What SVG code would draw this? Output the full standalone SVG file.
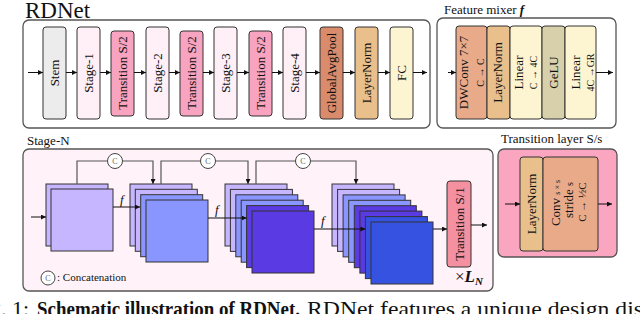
<svg xmlns="http://www.w3.org/2000/svg" width="640" height="314" viewBox="0 0 640 314" font-family="'Liberation Serif', 'DejaVu Serif', 'Times New Roman', serif">
<defs>
<marker id="ah" viewBox="0 0 6 6" refX="6" refY="3" markerWidth="5" markerHeight="5" orient="auto" markerUnits="userSpaceOnUse"><path d="M0,0 L6,3 L0,6 z" fill="#111"/></marker>
<style>
text{fill:#111}
.frame{stroke:#555;stroke-width:1.3}
.blk{stroke:#333;stroke-width:1}
.lbl{font-size:13px;text-anchor:middle}
.sm{font-size:10px;text-anchor:middle}
.arr{stroke:#111;stroke-width:1;fill:none;marker-end:url(#ah)}
.cat{stroke:#555;stroke-width:1.2;fill:none;marker-end:url(#ah)}
.sq{stroke:#333;stroke-width:1}
.lav{fill:#c6b6ff}.blu{fill:#8a96ff}.pur{fill:#5a3ae2}.roy{fill:#3552e0}
.cc{fill:#fff;stroke:#444;stroke-width:1}
.ct{font-size:8px;fill:#666;text-anchor:middle}
.stem{fill:#ececec}.stg{fill:#fff0f7}.trn{fill:#f8a3bf}.gap{fill:#d98b6c}.ln{fill:#e9bf8c}.fc{fill:#fdf4d2}.dw{fill:#e9aa8a}.gelu{fill:#d8cfab}
</style>
</defs>

<text x="25" y="18" font-size="23">RDNet</text>
<g id="rdnet">
<rect class="frame" x="23" y="20" width="407" height="108" rx="6" fill="#fff"/>
<g id="stem"><rect class="blk stem" x="43" y="27" width="23" height="92" rx="3"/><text class="lbl" transform="translate(58.5,73) rotate(-90)">Stem</text></g>
<g id="stage1"><rect class="blk stg" x="77" y="27" width="23" height="92" rx="3"/><text class="lbl" transform="translate(92.5,73) rotate(-90)">Stage-1</text></g>
<g id="trans1"><rect class="blk trn" x="111" y="31" width="23" height="85" rx="3"/><text class="lbl" transform="translate(126.5,73) rotate(-90)">Transition S/2</text></g>
<g id="stage2"><rect class="blk stg" x="146" y="27" width="23" height="92" rx="3"/><text class="lbl" transform="translate(161.5,73) rotate(-90)">Stage-2</text></g>
<g id="trans2"><rect class="blk trn" x="180" y="31" width="23" height="85" rx="3"/><text class="lbl" transform="translate(195.5,73) rotate(-90)">Transition S/2</text></g>
<g id="stage3"><rect class="blk stg" x="214" y="27" width="23" height="92" rx="3"/><text class="lbl" transform="translate(229.5,73) rotate(-90)">Stage-3</text></g>
<g id="trans3"><rect class="blk trn" x="249" y="31" width="23" height="85" rx="3"/><text class="lbl" transform="translate(264.5,73) rotate(-90)">Transition S/2</text></g>
<g id="stage4"><rect class="blk stg" x="283" y="27" width="23" height="92" rx="3"/><text class="lbl" transform="translate(298.5,73) rotate(-90)">Stage-4</text></g>
<g id="gap"><rect class="blk gap" x="320" y="27" width="23" height="92" rx="3"/><text class="lbl" transform="translate(335.5,73) rotate(-90)">GlobalAvgPool</text></g>
<g id="ln1"><rect class="blk ln" x="355" y="27" width="23" height="92" rx="3"/><text class="lbl" transform="translate(370.5,73) rotate(-90)">LayerNorm</text></g>
<g id="fc"><rect class="blk fc" x="390" y="27" width="23" height="92" rx="3"/><text class="lbl" transform="translate(405.5,73) rotate(-90)">FC</text></g>
</g>

<text x="444" y="14" font-size="13">Feature mixer <tspan font-weight="bold" font-style="italic">f</tspan></text>
<g id="mixer">
<rect class="frame" x="437" y="18" width="179" height="110" rx="6" fill="#fff"/>
<g id="dwconv"><rect class="blk dw" x="456" y="26" width="31" height="93" rx="3"/><text class="lbl" transform="translate(468,72.5) rotate(-90)">DWConv 7×7</text><text class="sm" transform="translate(483.5,72.5) rotate(-90)">C → C</text></g>
<g id="ln2"><rect class="blk ln" x="487" y="26" width="23" height="93" rx="3"/><text class="lbl" transform="translate(502,72.5) rotate(-90)">LayerNorm</text></g>
<g id="lin1"><rect class="blk fc" x="510" y="26" width="32" height="93" rx="3"/><text class="lbl" transform="translate(522.5,72.5) rotate(-90)">Linear</text><text class="sm" transform="translate(537,72.5) rotate(-90)">C → 4C</text></g>
<g id="gelu"><rect class="blk gelu" x="542" y="26" width="23" height="93" rx="3"/><text class="lbl" transform="translate(557.5,72.5) rotate(-90)">GeLU</text></g>
<g id="lin2"><rect class="blk fc" x="565" y="26" width="31" height="93" rx="3"/><text class="lbl" transform="translate(580,72.5) rotate(-90)">Linear</text><text class="sm" transform="translate(593.5,72.5) rotate(-90)">4C →GR</text></g>
</g>

<text x="27" y="145" font-size="13">Stage-N</text>
<g id="stageN">
<rect class="frame" x="23" y="149" width="470" height="142" rx="6" fill="#fff2f8"/>
<g id="stack1">
<rect class="sq lav" x="46" y="184" width="62" height="62"/>
<rect class="sq lav" x="51" y="189" width="62" height="62"/>
</g>
<g id="stack2">
<rect class="sq lav" x="130" y="184" width="62" height="62"/>
<rect class="sq lav" x="135.3" y="189.3" width="62" height="62"/>
<rect class="sq blu" x="140.7" y="194.7" width="62" height="62"/>
<rect class="sq blu" x="146" y="200" width="62" height="62"/>
</g>
<g id="stack3">
<rect class="sq lav" x="225" y="184" width="62" height="62"/>
<rect class="sq lav" x="230.4" y="189.4" width="62" height="62"/>
<rect class="sq blu" x="235.8" y="194.8" width="62" height="62"/>
<rect class="sq blu" x="241.2" y="200.2" width="62" height="62"/>
<rect class="sq pur" x="246.6" y="205.6" width="62" height="62"/>
<rect class="sq pur" x="252" y="211" width="62" height="62"/>
</g>
<g id="stack4">
<rect class="sq lav" x="332" y="184" width="62" height="62"/>
<rect class="sq lav" x="337.6" y="189.4" width="62" height="62"/>
<rect class="sq blu" x="343.1" y="194.9" width="62" height="62"/>
<rect class="sq blu" x="348.7" y="200.3" width="62" height="62"/>
<rect class="sq pur" x="354.3" y="205.7" width="62" height="62"/>
<rect class="sq pur" x="359.9" y="211.1" width="62" height="62"/>
<rect class="sq roy" x="365.4" y="216.6" width="62" height="62"/>
<rect class="sq roy" x="371" y="222" width="62" height="62"/>
</g>
<g id="transS1"><rect class="blk" x="447" y="181" width="24" height="86" rx="3" fill="#f4909f"/><text class="lbl" transform="translate(463.5,224) rotate(-90)">Transition S/1</text></g>
<text x="455" y="282" font-size="17">×<tspan font-weight="bold" font-style="italic">L</tspan><tspan dy="3" font-size="11" font-weight="bold" font-style="italic">N</tspan></text>
<g id="legend"><circle class="cc" cx="48" cy="278" r="7"/><text class="ct" x="48" y="281">C</text><text x="57" y="281" font-size="11">: Concatenation</text></g>
</g>

<text x="501" y="143" font-size="13">Transition layer S/s</text>
<g id="transition">
<rect class="frame" x="498" y="149" width="119" height="108" rx="6" fill="#fba6c1"/>
<g id="ln3"><rect class="blk ln" x="520" y="157" width="23" height="94" rx="3"/><text class="lbl" transform="translate(536,204) rotate(-90)">LayerNorm</text></g>
<g id="conv"><rect class="blk dw" x="543" y="157" width="55" height="94" rx="3"/>
<text class="lbl" transform="translate(559.5,203) rotate(-90)">Conv <tspan font-size="8">s × s</tspan></text>
<text class="lbl" transform="translate(572.5,200) rotate(-90)">stride <tspan font-size="10">s</tspan></text>
<text class="lbl" style="font-size:11px" transform="translate(586,202) rotate(-90)">C → ½C</text></g>
</g>

<g id="connectors">
<path class="arr" d="M28,72.5 H43"/>
<path class="arr" d="M66,72.5 H77"/>
<path class="arr" d="M100,72.5 H111"/>
<path class="arr" d="M134,72.5 H146"/>
<path class="arr" d="M169,72.5 H180"/>
<path class="arr" d="M203,72.5 H214"/>
<path class="arr" d="M237,72.5 H249"/>
<path class="arr" d="M272,72.5 H283"/>
<path class="arr" d="M306,72.5 H320"/>
<path class="arr" d="M343,72.5 H355"/>
<path class="arr" d="M378,72.5 H390"/>
<path class="arr" d="M413,72.5 H427"/>
<path class="arr" d="M448,72.5 H456"/>
<path class="arr" d="M596,72.5 H613"/>
<path class="arr" d="M505,204 H520"/>
<path class="arr" d="M598,204 H612"/>
<path class="arr" d="M31,217 H46"/>
<path class="cat" d="M77,184 V161 H153 V184"/>
<path class="cat" d="M161,184 V161 H248 V184"/>
<path class="cat" d="M256,184 V161 H356 V184"/>
<circle class="cc" cx="115" cy="161" r="7.5"/><text class="ct" x="115" y="164">C</text>
<circle class="cc" cx="208" cy="161" r="7.5"/><text class="ct" x="208" y="164">C</text>
<circle class="cc" cx="303" cy="161" r="7.5"/><text class="ct" x="303" y="164">C</text>
<path class="arr" d="M113,207 H140"/>
<text x="120" y="204" font-size="13" font-style="italic">f</text>
<path class="arr" d="M208,218 H246.6"/>
<text x="215" y="214" font-size="13" font-style="italic">f</text>
<path class="arr" d="M314,229 H365.4"/>
<text x="321" y="225" font-size="13" font-style="italic">f</text>
<path class="arr" d="M433,229 H447"/>
<path class="arr" d="M471,225 H487"/>
</g>

<text x="29" y="316" text-anchor="end" font-size="22">Fig. 1:</text>
<text x="37" y="316" textLength="263" lengthAdjust="spacingAndGlyphs" font-size="22" font-weight="bold">Schematic illustration of RDNet.</text>
<text x="307" y="316" textLength="336" lengthAdjust="spacingAndGlyphs" font-size="22">RDNet features a unique design dis</text>
</svg>
